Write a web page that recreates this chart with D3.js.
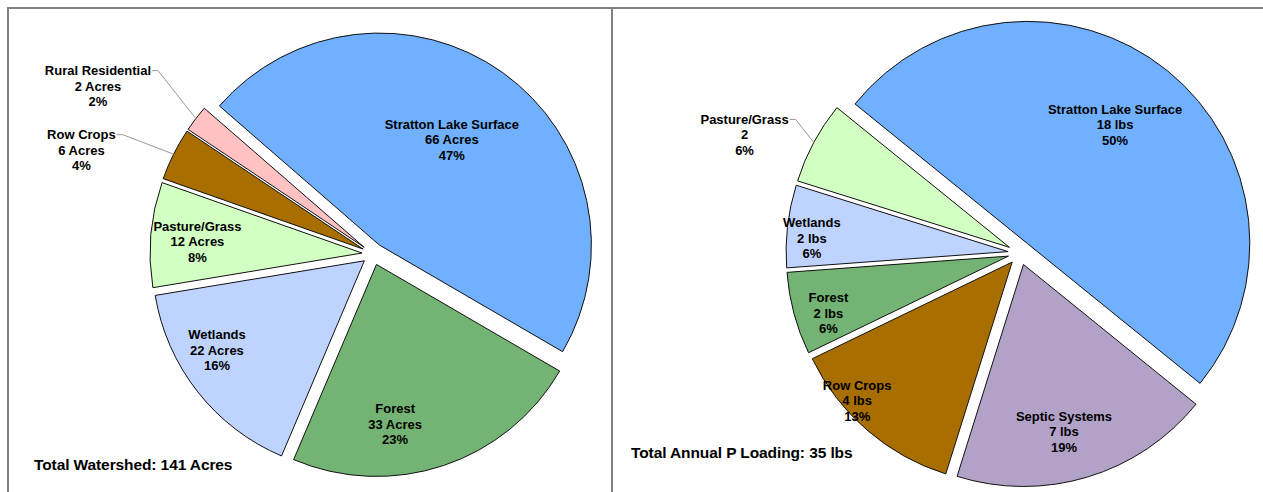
<!DOCTYPE html>
<html>
<head>
<meta charset="utf-8">
<script src="https://cdn.jsdelivr.net/npm/d3@7"></script>
<style>
  body { margin: 0; background: #fff; }
  text { font-family: "Liberation Sans", Arial, sans-serif; font-weight: bold; fill: #000; }
</style>
</head>
<body>
<div class="charts"></div>
<script>
// Left chart: land use in the watershed
var watershedCategories = ["Stratton Lake Surface", "Forest", "Wetlands", "Pasture/Grass", "Row Crops", "Rural Residential"];
var watershedAcres = [66, 33, 22, 12, 6, 2];
var watershedPercent = [47, 23, 16, 8, 4, 2];
var watershedTotal = "Total Watershed: 141 Acres";

// Right chart: annual phosphorus loading
var loadingCategories = ["Stratton Lake Surface", "Septic Systems", "Row Crops", "Forest", "Wetlands", "Pasture/Grass"];
var loadingLbs = [18, 7, 4, 2, 2, 2];
var loadingUnits = ["lbs", "lbs", "lbs", "lbs", "lbs", ""];
var loadingPercent = [50, 19, 13, 6, 6, 6];
var loadingTotal = "Total Annual P Loading: 35 lbs";

var colors = {
  "Stratton Lake Surface": "#70b0ff",
  "Forest": "#73b373",
  "Wetlands": "#bfd3ff",
  "Pasture/Grass": "#d2ffc2",
  "Row Crops": "#a86f00",
  "Rural Residential": "#ffc1c1",
  "Septic Systems": "#b2a2c8"
};

var width = 1263;
var height = 492;

var svg = d3.select(".charts")
            .append("svg")
              .attr("width", width)
              .attr("height", height);

// panel borders
svg.append("path")
  .attr("d", "M8,492V8H1263M612,8V492")
  .attr("fill", "none")
  .attr("stroke", "#808080")
  .attr("stroke-width", 2);

// label placement: [radius as fraction of pie radius, angle shift from slice middle in degrees]
var watershedLabelSpots = {
  "Stratton Lake Surface": [0.655, -1],
  "Forest": [0.81, 11],
  "Wetlands": [0.865, 6.5],
  "Pasture/Grass": [0.83, -1],
  "Row Crops": [1.46, -7],
  "Rural Residential": [1.52, -6]
};
var loadingLabelSpots = {
  "Stratton Lake Surface": [0.72, -2.5],
  "Septic Systems": [0.83, 3],
  "Row Crops": [0.99, 7],
  "Forest": [0.905, -2.5],
  "Wetlands": [0.94, -2.5],
  "Pasture/Grass": [1.35, -5]
};

function drawPie(opts) {
  var rows = opts.categories.map(function(c, i) {
    return { name: c, value: opts.percent[i], lines: [c, opts.amounts[i], opts.percent[i] + "%"] };
  });

  var pie = d3.pie()
              .sort(null)
              .value(function(d) { return d.value; })
              .startAngle(opts.start * Math.PI / 180)
              .endAngle(opts.start * Math.PI / 180 + 2 * Math.PI);

  var arc = d3.arc().innerRadius(0).outerRadius(opts.r);

  var g = svg.append("g")
             .attr("transform", "translate(" + opts.cx + "," + opts.cy + ")");

  var slices = pie(rows);

  function polar(a, r) {
    return [Math.sin(a) * r, -Math.cos(a) * r];
  }

  g.selectAll("path.slice")
    .data(slices)
    .enter()
    .append("path")
    .attr("class", "slice")
    .attr("transform", function(d) {
      var p = polar((d.startAngle + d.endAngle) / 2, opts.explode);
      return "translate(" + p[0] + "," + p[1] + ")";
    })
    .attr("d", arc)
    .attr("fill", function(d) { return colors[d.data.name]; })
    .attr("stroke", "#111")
    .attr("stroke-width", 1);

  var lineH = 15.5;

  var labels = g.selectAll("g.label")
    .data(slices)
    .enter()
    .append("g")
    .attr("class", "label")
    .attr("transform", function(d) {
      var spot = opts.spots[d.data.name];
      var a = (d.startAngle + d.endAngle) / 2 + spot[1] * Math.PI / 180;
      var p = polar(a, spot[0] * opts.r);
      return "translate(" + p[0] + "," + p[1] + ")";
    });

  labels.selectAll("text")
    .data(function(d) { return d.data.lines; })
    .enter()
    .append("text")
    .attr("x", 0)
    .attr("y", function(d, i) { return (i - 1) * lineH + 4.5; })
    .attr("text-anchor", "middle")
    .attr("font-size", "13px")
    .text(function(d) { return d; });

  // leader lines for the labels outside the pie
  labels.each(function(d) {
    var spot = opts.spots[d.data.name];
    if (spot[0] <= 1) return;
    var first = d3.select(this).select("text").node();
    var w = first.getComputedTextLength();
    var a = (d.startAngle + d.endAngle) / 2 + spot[1] * Math.PI / 180;
    var lp = polar(a, spot[0] * opts.r);
    var mid = (d.startAngle + d.endAngle) / 2;
    var off = polar(mid, opts.explode);
    var edge = polar(mid, opts.r);
    var x0 = lp[0] + w / 2 + 1;
    var y0 = lp[1] - lineH;
    g.append("path")
      .attr("d", "M" + x0 + "," + y0 + "H" + (x0 + 6) + "L" + (edge[0] + off[0]) + "," + (edge[1] + off[1]))
      .attr("fill", "none")
      .attr("stroke", "#999")
      .attr("stroke-width", 1);
  });

  svg.append("text")
    .attr("x", opts.totalX)
    .attr("y", opts.totalY)
    .attr("font-size", "15.5px")
    .attr("letter-spacing", "-0.1px")
    .text(opts.total);
}

drawPie({
  categories: watershedCategories,
  amounts: watershedAcres.map(function(v) { return v + " Acres"; }),
  percent: watershedPercent,
  spots: watershedLabelSpots,
  total: watershedTotal,
  start: -49,
  cx: 373, cy: 254, r: 212, explode: 11,
  totalX: 34, totalY: 470
});

drawPie({
  categories: loadingCategories,
  amounts: loadingLbs.map(function(v, i) { return loadingUnits[i] ? v + " " + loadingUnits[i] : "" + v; }),
  percent: loadingPercent,
  spots: loadingLabelSpots,
  total: loadingTotal,
  start: -51,
  cx: 1020, cy: 253, r: 222, explode: 12,
  totalX: 631, totalY: 458
});
</script>
</body>
</html>
